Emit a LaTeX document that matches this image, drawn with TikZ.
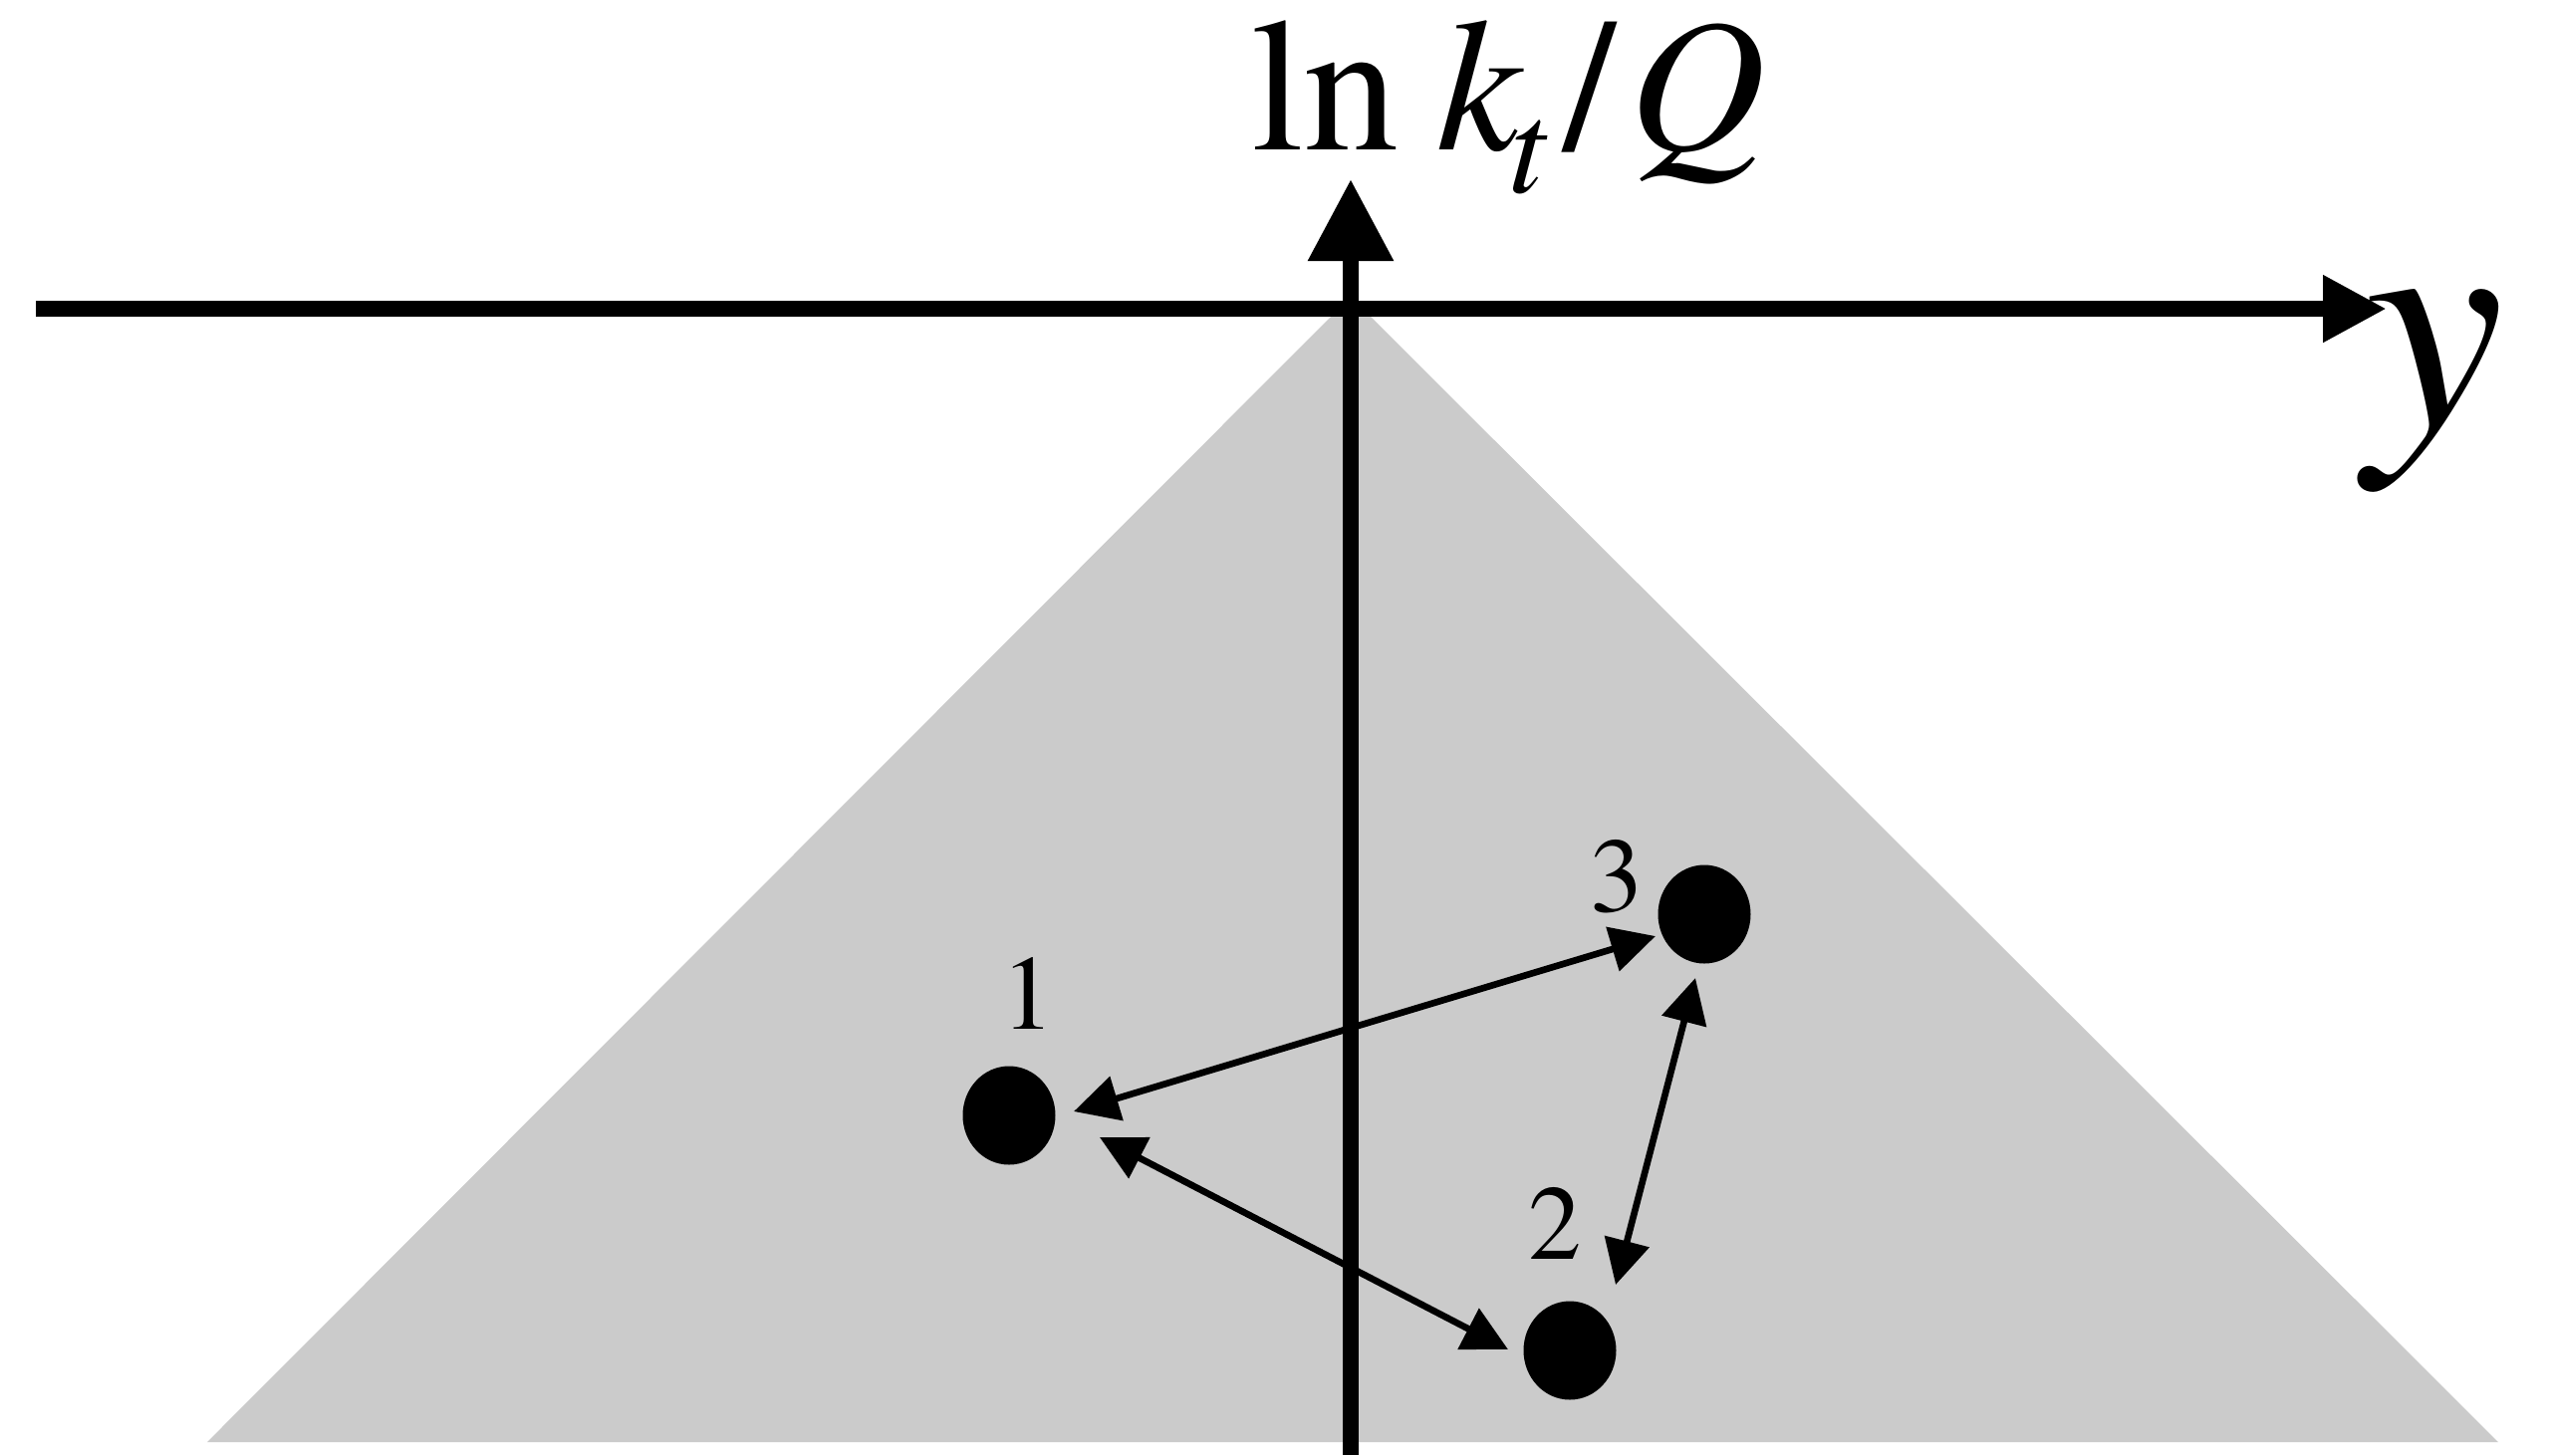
\documentclass[tikz,border=0pt]{standalone}
\usepackage{fontspec}
\setmainfont{texgyretermes}[Extension=.otf,UprightFont=*-regular,ItalicFont=*-italic,BoldFont=*-bold,BoldItalicFont=*-bolditalic]
\usetikzlibrary{arrows.meta,shapes.geometric,calc}
\definecolor{conegray}{HTML}{CBCBCB}
\begin{document}
\begin{tikzpicture}[x=0.3pt,y=-0.3pt,
  axis/.style={line width=4.8pt},
  dot/.style={ellipse,fill=black,inner sep=0pt,minimum width=27.9pt,minimum height=29.7pt},
  num/.style={font=\fontsize{32}{32}\selectfont,inner sep=0pt,anchor=base},
  dar/.style={line width=2pt,{Triangle[length=13.5pt,width=13.5pt]}-{Triangle[length=13.5pt,width=13.5pt]}}
]
\useasboundingbox (0,0) rectangle (2561,1461);
\fill[conegray] (1356,298) -- (2508,1448) -- (208,1448) -- cycle;
\coordinate (xs) at (36,310);
\coordinate (xe) at (2396,310);
\coordinate (vs) at (1356,1461);
\coordinate (ve) at (1356,180);
\draw[axis,-{Triangle[length=19.2pt,width=19pt]}] (xs) -- (xe);
\draw[axis,-{Triangle[length=24.6pt,width=24.6pt]}] (vs) -- (ve);
\node[anchor=base west,inner sep=0pt,font=\fontsize{57}{57}\selectfont] (vlab) at (1256,150)
  {ln\hspace{0.2em}\textit{k}\kern-4.8pt\raisebox{-12.9pt}{\fontsize{40}{40}\selectfont\textit{t}}\kern4.8pt/\kern3.9pt\textit{Q}};
\node[inner sep=0pt,font=\fontsize{94.5}{94.5}\selectfont\itshape] (hlab) at (2444,392) {y};
\node[dot] (d1) at (1013,1120) {};
\node[dot] (d2) at (1576,1356) {};
\node[dot] (d3) at (1711,918) {};
\node[num] (n1) at (1032,1033) {1};
\node[num] (n2) at (1561,1264) {2};
\node[num] (n3) at (1623,915) {3};
\draw[dar] ($(d1)+(65,-4)$) -- ($(d3)+(-49,22)$);
\draw[dar] ($(d1)+(91,22)$) -- ($(d2)+(-62,-1)$);
\draw[dar] ($(d2)+(46,-66)$) -- ($(d3)+(-9,64)$);
\end{tikzpicture}
\end{document}
